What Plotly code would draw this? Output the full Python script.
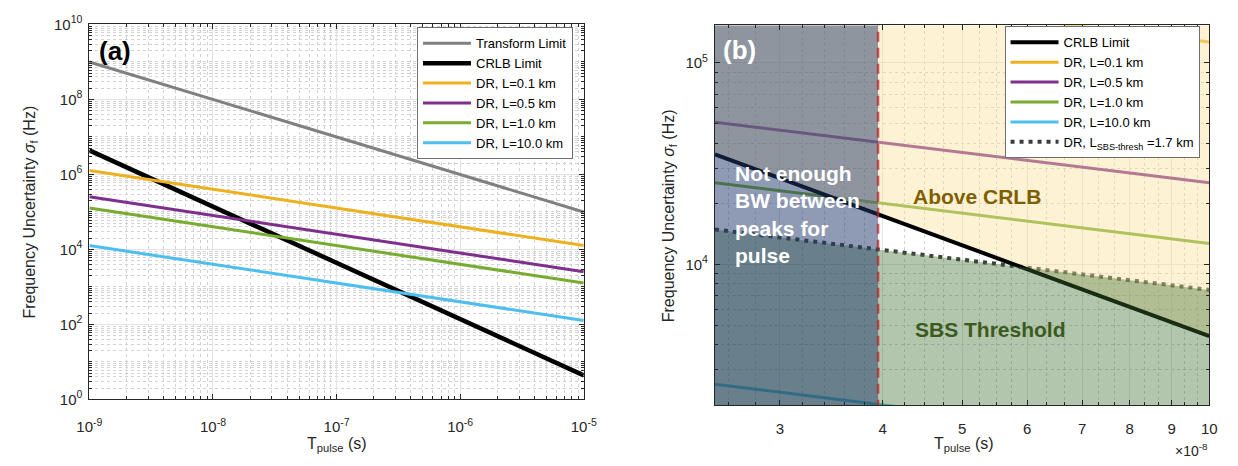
import plotly.graph_objects as go

W, H = 1238, 466
FONT = "Liberation Sans, Arial, sans-serif"
INK = "#262626"

# ---------------- data, panel (a) ----------------
T_A = [1e-9, 1e-5]
TRANSFORM_A = [1.0e9, 1.0e5]
CRLB_A = [4.4e6, 4.4]
DR_L01_A = [1.27e6, 1.27e4]
DR_L05_A = [2.54e5, 2.54e3]
DR_L1_A = [1.27e5, 1.27e3]
DR_L10_A = [1.27e4, 1.27e2]

# ---------------- data, panel (b) ----------------
T_B = [2.5e-8, 1e-7]
CRLB_B = [3.52e4, 4.4e3]
DR_L01_B = [2.54e5, 1.27e5]
DR_L05_B = [5.08e4, 2.54e4]
DR_L1_B = [2.54e4, 1.27e4]
DR_L10_B = [2.54e3, 1.27e3]
DR_SBS_B = [1.49e4, 7.47e3]
T_MIN_BW = 3.95e-8
Y_B_RANGE = [2.0e3, 1.535e5]

# ---------------- ticks ----------------
XA_TICKS = [1e-9, 1e-8, 1e-7, 1e-6, 1e-5]
XA_TEXT = ["10<sup>-9</sup>", "10<sup>-8</sup>", "10<sup>-7</sup>", "10<sup>-6</sup>", "10<sup>-5</sup>"]
YA_TICKS = [1e0, 1e2, 1e4, 1e6, 1e8, 1e10]
YA_TEXT = ["10<sup>0</sup>", "10<sup>2</sup>", "10<sup>4</sup>", "10<sup>6</sup>", "10<sup>8</sup>", "10<sup>10</sup>"]
XB_TICKS = [3e-8, 4e-8, 5e-8, 6e-8, 7e-8, 8e-8, 9e-8, 1e-7]
XB_TEXT = ["3", "4", "5", "6", "7", "8", "9", "10"]
XB_MINOR = [2.6e-8, 2.8e-8, 3.2e-8, 3.4e-8, 3.6e-8, 3.8e-8, 4.25e-8, 4.5e-8, 4.75e-8,
            5.25e-8, 5.5e-8, 5.75e-8, 6.33e-8, 6.67e-8, 7.33e-8, 7.67e-8, 8.33e-8,
            8.67e-8, 9.33e-8, 9.67e-8]
YB_TICKS = [1e4, 1e5]
YB_TEXT = ["10<sup>4</sup>", "10<sup>5</sup>"]

XA_MINOR = [m * 10.0 ** k for k in range(-9, -5) for m in range(2, 10)]
YA_MINOR = [m * 10.0 ** k for k in range(0, 10) for m in range(1, 10)
            if not (m == 1 and k % 2 == 0)]
YB_MINOR = [m * 10.0 ** k for k in (3, 4) for m in range(2, 10)]

LABELS = ["Transform Limit", "CRLB Limit", "DR, L=0.1 km", "DR, L=0.5 km",
          "DR, L=1.0 km", "DR, L=10.0 km", "DR, L<sub>SBS-thresh</sub> =1.7 km"]
C_GRAY = "#808080"
C_BLACK = "#000000"
C_ORANGE = "#EDB120"
C_PURPLE = "#7E2F8E"
C_GREEN = "#77AC30"
C_CYAN = "#4DBEEE"
C_DOT = "#3c3c3c"


def pxx(p):
    return p / W


def pxy(p):
    return 1 - p / H


fig = go.Figure()

# ---------------- panel (a) traces ----------------
a_series = [
    (TRANSFORM_A, C_GRAY, 3, LABELS[0]),
    (CRLB_A, C_BLACK, 4.5, LABELS[1]),
    (DR_L01_A, C_ORANGE, 3, LABELS[2]),
    (DR_L05_A, C_PURPLE, 3, LABELS[3]),
    (DR_L1_A, C_GREEN, 3, LABELS[4]),
    (DR_L10_A, C_CYAN, 3, LABELS[5]),
]
for i, (ys, col, w, name) in enumerate(a_series):
    fig.add_trace(go.Scatter(x=T_A, y=ys, mode="lines", name=name,
                             line=dict(color=col, width=w), xaxis="x", yaxis="y",
                             legend="legend", legendrank=i + 1, hoverinfo="skip"))

# ---------------- panel (b) traces ----------------
b_lines = [
    (DR_L01_B, C_ORANGE, LABELS[2], 2),
    (DR_L05_B, C_PURPLE, LABELS[3], 3),
    (DR_L1_B, C_GREEN, LABELS[4], 4),
    (DR_L10_B, C_CYAN, LABELS[5], 5),
]
for ys, col, name, rank in b_lines:
    fig.add_trace(go.Scatter(x=T_B, y=ys, mode="lines", name=name,
                             line=dict(color=col, width=3), xaxis="x2", yaxis="y2",
                             legend="legend2", legendrank=rank, hoverinfo="skip"))
fig.add_trace(go.Scatter(x=T_B, y=DR_SBS_B, mode="lines", name=LABELS[6],
                         line=dict(color=C_DOT, width=4, dash="4px,5px"),
                         xaxis="x2", yaxis="y2", legend="legend2", legendrank=6,
                         hoverinfo="skip"))

ytop = Y_B_RANGE[1] * 1.05
ybot = Y_B_RANGE[0] * 0.95
# Above CRLB (yellow)
fig.add_trace(go.Scatter(x=[T_B[0], T_B[1], T_B[1], T_B[0]],
                         y=[CRLB_B[0], CRLB_B[1], ytop, ytop],
                         fill="toself", fillcolor="rgba(252,224,152,0.42)",
                         line=dict(width=0), mode="lines", showlegend=False,
                         xaxis="x2", yaxis="y2", hoverinfo="skip"))
# CRLB line
fig.add_trace(go.Scatter(x=T_B, y=CRLB_B, mode="lines", name=LABELS[1],
                         line=dict(color=C_BLACK, width=4), xaxis="x2", yaxis="y2",
                         legend="legend2", legendrank=1, hoverinfo="skip"))
# SBS threshold (green)
fig.add_trace(go.Scatter(x=[T_B[0], T_B[1], T_B[1], T_B[0]],
                         y=[DR_SBS_B[0], DR_SBS_B[1], ybot, ybot],
                         fill="toself", fillcolor="rgba(62,112,50,0.40)",
                         line=dict(width=0), mode="lines", showlegend=False,
                         xaxis="x2", yaxis="y2", hoverinfo="skip"))
# Not enough BW (overlay)
fig.add_trace(go.Scatter(x=[T_B[0], T_MIN_BW, T_MIN_BW, T_B[0]],
                         y=[ybot, ybot, ytop, ytop],
                         fill="toself", fillcolor="rgba(31,55,105,0.5)",
                         line=dict(width=0), mode="lines", showlegend=False,
                         xaxis="x2", yaxis="y2", hoverinfo="skip"))
fig.add_trace(go.Scatter(x=[T_MIN_BW, T_MIN_BW], y=[ybot, ytop], mode="lines",
                         line=dict(color="rgba(185,35,45,0.75)", width=2.5, dash="10px,6px"),
                         showlegend=False, xaxis="x2", yaxis="y2", hoverinfo="skip"))

# ---------------- axes ----------------
def axis_common():
    return dict(showline=True, linecolor=INK, linewidth=1, mirror="allticks",
                ticks="inside", ticklen=5, tickcolor=INK, tickwidth=1,
                showgrid=True, gridcolor="#e3e3e3", gridwidth=1, zeroline=False,
                tickfont=dict(family=FONT, size=15, color=INK), tickmode="array")


def minor(vals):
    return dict(tickmode="array", tickvals=vals, ticks="inside", ticklen=3,
                tickcolor=INK, showgrid=True, griddash="dot", gridcolor="#d2d2d2",
                gridwidth=1)


xa = axis_common()
xa.update(type="log", range=[-9, -5], domain=[pxx(78), pxx(583)], anchor="y",
          tickvals=XA_TICKS, ticktext=XA_TEXT, minor=minor(XA_MINOR), ticklabelstandoff=14)
ya = axis_common()
ya.update(type="log", range=[0, 10], domain=[pxy(405), pxy(14)], anchor="x",
          tickvals=YA_TICKS, ticktext=YA_TEXT, minor=minor(YA_MINOR), ticklabelstandoff=3)
xb = axis_common()
xb.update(type="log", range=[-7.60206, -7], domain=[pxx(717), pxx(1222)], anchor="y2",
          tickvals=XB_TICKS, ticktext=XB_TEXT, minor=minor(XB_MINOR), ticklabelstandoff=10)
yb = axis_common()
yb.update(type="log", range=[3.30103, 5.18611], domain=[pxy(411), pxy(15)], anchor="x2",
          tickvals=YB_TICKS, ticktext=YB_TEXT, minor=minor(YB_MINOR), ticklabelstandoff=3)

legend_common = dict(bgcolor="white", bordercolor="#6e6e6e", borderwidth=1,
                     font=dict(family=FONT, size=13, color="#000000"),
                     xanchor="right", yanchor="top", tracegroupgap=0,
                     itemwidth=48, traceorder="normal")

fig.update_layout(
    width=W, height=H, margin=dict(l=0, r=0, t=0, b=0),
    paper_bgcolor="white", plot_bgcolor="white",
    xaxis=xa, yaxis=ya, xaxis2=xb, yaxis2=yb,
    showlegend=True,
    legend=dict(x=pxx(572), y=pxy(17), **legend_common),
    legend2=dict(x=pxx(1212), y=pxy(16), **legend_common),
    font=dict(family=FONT, color=INK),
)

ann = []
title_font = dict(family=FONT, size=16, color=INK)
ylab = "Frequency Uncertainty <i>σ</i><sub>f</sub> (Hz)"
ann.append(dict(text=ylab, x=pxx(18), y=pxy(209.5), textangle=-90, font=title_font))
ann.append(dict(text=ylab, x=pxx(670), y=pxy(213), textangle=-90, font=title_font))
ann.append(dict(text="T<sub>pulse</sub> (s)", x=pxx(331), y=pxy(452), font=title_font))
ann.append(dict(text="T<sub>pulse</sub> (s)", x=pxx(971), y=pxy(452), font=title_font))
ann.append(dict(text="×10<sup>-8</sup>", x=pxx(1223), y=pxy(458), xanchor="right",
                font=dict(family=FONT, size=14, color=INK)))
ann.append(dict(text="<b>(a)</b>", x=pxx(86), y=pxy(42), xanchor="left",
                font=dict(family=FONT, size=26, color="#000000")))
ann.append(dict(text="<b>(b)</b>", x=pxx(723), y=pxy(41), xanchor="left",
                font=dict(family=FONT, size=26, color="#ffffff")))
ann.append(dict(text="<b>Not enough<br>BW between<br>peaks for<br>pulse</b>",
                x=pxx(735), y=pxy(212), xanchor="left", align="left",
                font=dict(family=FONT, size=21, color="#ffffff")))
ann.append(dict(text="<b>Above CRLB</b>", x=pxx(917), y=pxy(193), xanchor="left",
                font=dict(family=FONT, size=21, color="#7f5f00")))
ann.append(dict(text="<b>SBS Threshold</b>", x=pxx(919), y=pxy(332), xanchor="left",
                font=dict(family=FONT, size=21, color="#3b5a1e")))
for a in ann:
    a.update(xref="paper", yref="paper", showarrow=False)
    a.setdefault("xanchor", "center")
    a.setdefault("yanchor", "middle")
fig.update_layout(annotations=ann)

fig.write_html("out.html")
